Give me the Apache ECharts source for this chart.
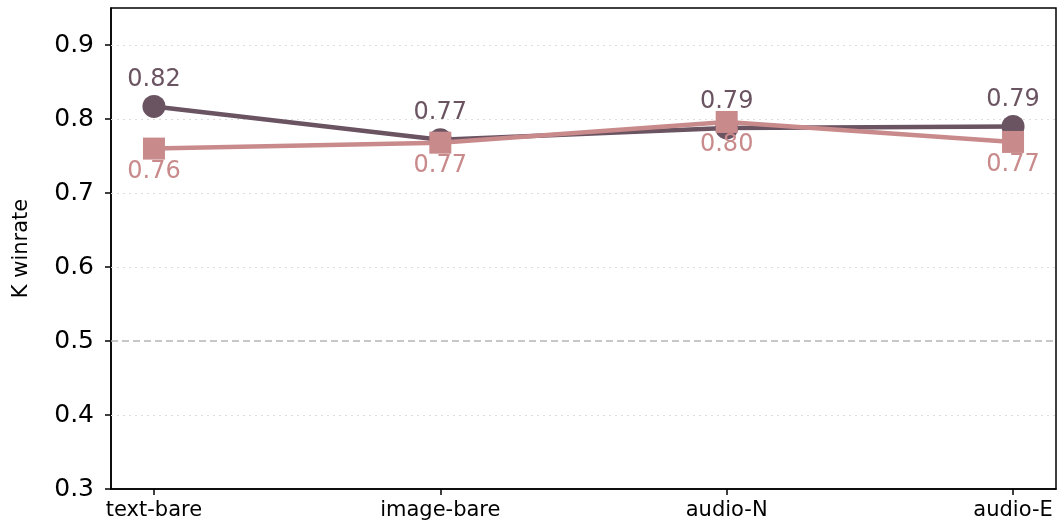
<!DOCTYPE html>
<html>
<head>
<meta charset="utf-8">
<script src="https://cdn.jsdelivr.net/npm/echarts@6/dist/echarts.min.js"></script>
<style>
html,body{margin:0;padding:0;background:#fff;}
#chart{width:1057px;height:532px;}
</style>
</head>
<body>
<div id="chart"></div>
<script>
const categories = ['text-bare', 'image-bare', 'audio-N', 'audio-E'];
const seriesA = [0.817, 0.772, 0.788, 0.790];
const seriesALabels = ['0.82', '0.77', '0.79', '0.79'];
const seriesB = [0.760, 0.768, 0.796, 0.769];
const seriesBLabels = ['0.76', '0.77', '0.80', '0.77'];
const yTicks = [0.3, 0.4, 0.5, 0.6, 0.7, 0.8, 0.9];
const refLine = 0.5;

const FONT = 'DejaVu Sans';
const colA = '#6b5462';
const colB = '#c98a8b';

const chart = echarts.init(document.getElementById('chart'), null, {renderer: 'canvas'});
const idx = categories.map((c, i) => i);

chart.setOption({
  animation: false,
  backgroundColor: '#fff',
  grid: {left: 111, right: 1, top: 8, bottom: 43, show: true, borderColor: '#000', borderWidth: 1.5, containLabel: false},
  xAxis: {
    type: 'value', min: -0.15, max: 3.15,
    axisLine: {show: true, onZero: false, lineStyle: {color: '#000', width: 1.5}},
    axisTick: {show: true, customValues: idx, length: 6, lineStyle: {color: '#000', width: 1.5}},
    axisLabel: {customValues: idx, formatter: v => categories[Math.round(v)] || '', color: '#000', fontFamily: FONT, fontSize: 21, margin: 11},
    splitLine: {show: false}
  },
  yAxis: {
    type: 'value', min: 0.3, max: 0.95,
    name: 'K winrate', nameLocation: 'middle', nameGap: 79,
    nameTextStyle: {color: '#000', fontFamily: FONT, fontSize: 21},
    axisLine: {show: true, onZero: false, lineStyle: {color: '#000', width: 1.5}},
    axisTick: {show: true, customValues: yTicks, length: 6, lineStyle: {color: '#000', width: 1.5}},
    axisLabel: {customValues: yTicks, formatter: v => v.toFixed(1), color: '#000', fontFamily: FONT, fontSize: 25, margin: 17},
    splitLine: {show: false}
  },
  series: [
    {
      type: 'line', name: 'grid', data: [], silent: true, z: 1,
      markLine: {
        z: 1, silent: true, symbol: 'none', label: {show: false},
        lineStyle: {color: '#dddddd', type: [2, 4], width: 1.2},
        data: yTicks.filter(v => v !== refLine && v !== 0.3).map(v => ({yAxis: v}))
      }
    },
    {
      type: 'line', name: 'ref', data: [], silent: true, z: 1,
      markLine: {
        z: 1, silent: true, symbol: 'none', label: {show: false},
        lineStyle: {color: '#b5b5b5', type: [7, 4], width: 1.5},
        data: [{yAxis: refLine}]
      }
    },
    {
      type: 'line', name: 'A', z: 3,
      data: seriesA.map((v, i) => [i, v]),
      symbol: 'circle', symbolSize: 23,
      lineStyle: {color: colA, width: 4.5},
      itemStyle: {color: colA},
      label: {show: true, position: 'top', distance: 3, color: colA, fontFamily: FONT, fontSize: 24,
        formatter: p => seriesALabels[p.dataIndex]}
    },
    {
      type: 'line', name: 'B', z: 4,
      data: seriesB.map((v, i) => [i, v]),
      symbol: 'rect', symbolSize: 22,
      lineStyle: {color: colB, width: 4.5},
      itemStyle: {color: colB},
      label: {show: true, position: 'bottom', distance: 0, color: colB, fontFamily: FONT, fontSize: 24,
        formatter: p => seriesBLabels[p.dataIndex]}
    }
  ]
});
</script>
</body>
</html>
